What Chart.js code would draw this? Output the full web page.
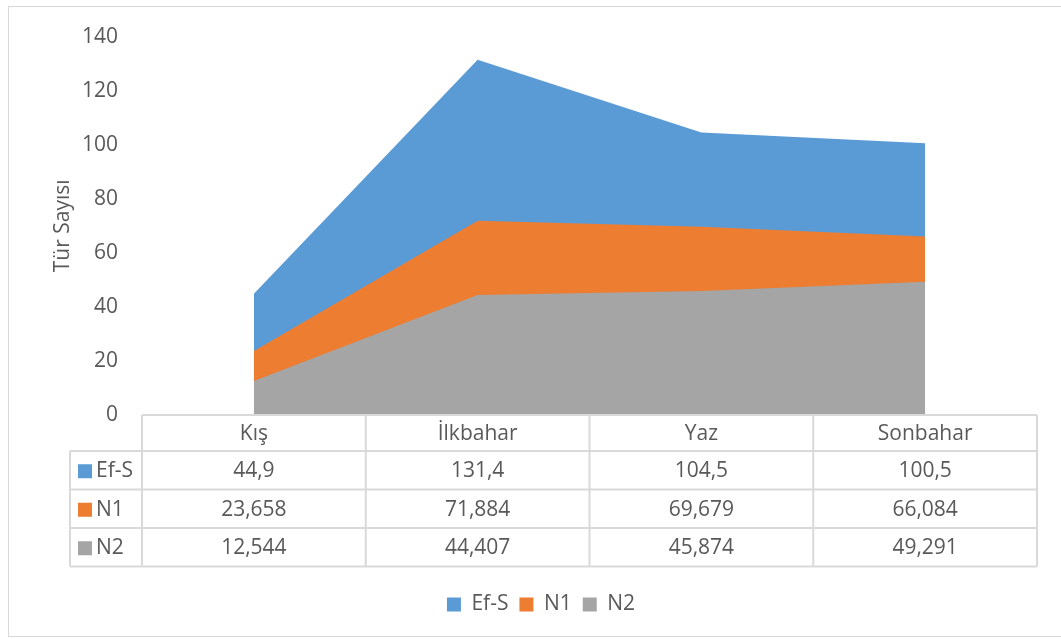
<!DOCTYPE html>
<html>
<head>
<meta charset="utf-8">
<script src="https://cdn.jsdelivr.net/npm/chart.js@4.4.0/dist/chart.umd.min.js"></script>
<style>
  html, body { margin: 0; padding: 0; background: #fff; }
  #wrap { width: 1061px; height: 639px; }
</style>
</head>
<body>
<div id="wrap"><canvas id="chart" width="1061" height="639"></canvas></div>
<script>
// data
const seasons = ['Kış', 'İlkbahar', 'Yaz', 'Sonbahar'];
const efS = [44.9, 131.4, 104.5, 100.5];
const n1 = [23.658, 71.884, 69.679, 66.084];
const n2 = [12.544, 44.407, 45.874, 49.291];
const seriesNames = ['Ef-S', 'N1', 'N2'];
const yTicks = [0, 20, 40, 60, 80, 100, 120, 140];

const colors = ['#5B9BD5', '#ED7D31', '#A5A5A5'];
const textColor = '#595959';
const lineColor = '#D9D9D9';
const fontFamily = '"Open Sans", "Noto Sans", sans-serif';
const fontSize = 21;

const fmt = v => String(v).replace('.', ',');

// outer frame
const framePlugin = {
  id: 'frame',
  beforeDraw(chart) {
    const ctx = chart.ctx;
    ctx.save();
    ctx.fillStyle = '#fff';
    ctx.fillRect(0, 0, chart.width, chart.height);
    ctx.strokeStyle = lineColor;
    ctx.lineWidth = 1;
    ctx.strokeRect(8.5, 6.5, chart.width + 10, 630);
    ctx.restore();
  }
};

// data table under the plot, columns follow the x scale
const tablePlugin = {
  id: 'dataTable',
  afterDraw(chart) {
    const ctx = chart.ctx;
    const x = chart.scales.x;
    const area = chart.chartArea;
    const colW = (x.right - x.left) / seasons.length;
    const left = x.left;
    const right = x.right;
    const rowLeft = 70;
    const rows = [area.bottom, area.bottom + 36];
    for (let i = 0; i < 3; i++) rows.push(rows[rows.length - 1] + 38.5);
    const allSeries = [efS, n1, n2];

    ctx.save();
    ctx.strokeStyle = lineColor;
    ctx.lineWidth = 2;
    ctx.beginPath();
    ctx.moveTo(left, rows[0]); ctx.lineTo(right, rows[0]);
    for (let r = 1; r < rows.length; r++) {
      ctx.moveTo(rowLeft, rows[r]); ctx.lineTo(right, rows[r]);
    }
    ctx.moveTo(rowLeft, rows[1]); ctx.lineTo(rowLeft, rows[rows.length - 1]);
    for (let c = 0; c <= seasons.length; c++) {
      const cx = left + c * colW;
      ctx.moveTo(cx, rows[0]); ctx.lineTo(cx, rows[rows.length - 1]);
    }
    ctx.stroke();

    ctx.font = fontSize + 'px ' + fontFamily;
    ctx.fillStyle = textColor;
    ctx.textBaseline = 'middle';
    ctx.textAlign = 'center';
    seasons.forEach((s, i) => {
      ctx.fillText(s, x.getPixelForValue(i), (rows[0] + rows[1]) / 2 + 1);
    });
    allSeries.forEach((vals, r) => {
      const cy = (rows[r + 1] + rows[r + 2]) / 2 + 1;
      ctx.fillStyle = colors[r];
      ctx.fillRect(78, cy - 7, 14, 14);
      ctx.fillStyle = textColor;
      ctx.textAlign = 'left';
      ctx.fillText(seriesNames[r], 96, cy);
      ctx.textAlign = 'center';
      vals.forEach((v, i) => ctx.fillText(fmt(v), x.getPixelForValue(i), cy));
    });
    ctx.restore();
  }
};

new Chart(document.getElementById('chart'), {
  type: 'line',
  data: {
    labels: seasons,
    datasets: [
      { label: seriesNames[0], data: efS, backgroundColor: colors[0], borderColor: colors[0], order: 3 },
      { label: seriesNames[1], data: n1, backgroundColor: colors[1], borderColor: colors[1], order: 2 },
      { label: seriesNames[2], data: n2, backgroundColor: colors[2], borderColor: colors[2], order: 1 }
    ].map(d => Object.assign(d, { fill: 'origin', borderWidth: 0, pointRadius: 0, tension: 0 }))
  },
  options: {
    responsive: false,
    animation: false,
    layout: { padding: { top: 35, right: 0, bottom: 14, left: 21 } },
    plugins: {
      tooltip: { enabled: false },
      legend: {
        position: 'bottom',
        labels: {
          sort: (a, b) => a.datasetIndex - b.datasetIndex,
          boxWidth: 14, boxHeight: 14, padding: 11,
          color: textColor,
          font: { size: fontSize, family: fontFamily }
        }
      }
    },
    scales: {
      x: {
        offset: true,
        grid: { display: false },
        border: { display: false },
        ticks: { display: false },
        afterFit: s => { s.height = 168; }
      },
      y: {
        min: 0, max: 140,
        afterBuildTicks: s => { s.ticks = yTicks.map(v => ({ value: v })); },
        grid: { display: false, drawTicks: false },
        border: { display: false },
        ticks: { padding: 24, color: textColor, font: { size: fontSize, family: fontFamily } },
        title: {
          display: true, text: 'Tür Sayısı', color: textColor,
          font: { size: fontSize, family: fontFamily },
          padding: { top: 29, bottom: 0 }
        },
        afterFit: s => { s.width = 121; }
      },
      // empty right-hand strip so the plot ends where the reference does
      yRight: {
        position: 'right',
        grid: { display: false, drawTicks: false },
        border: { display: false },
        ticks: { display: false },
        afterFit: s => { s.width = 24; }
      }
    }
  },
  plugins: [framePlugin, tablePlugin]
});
</script>
</body>
</html>
